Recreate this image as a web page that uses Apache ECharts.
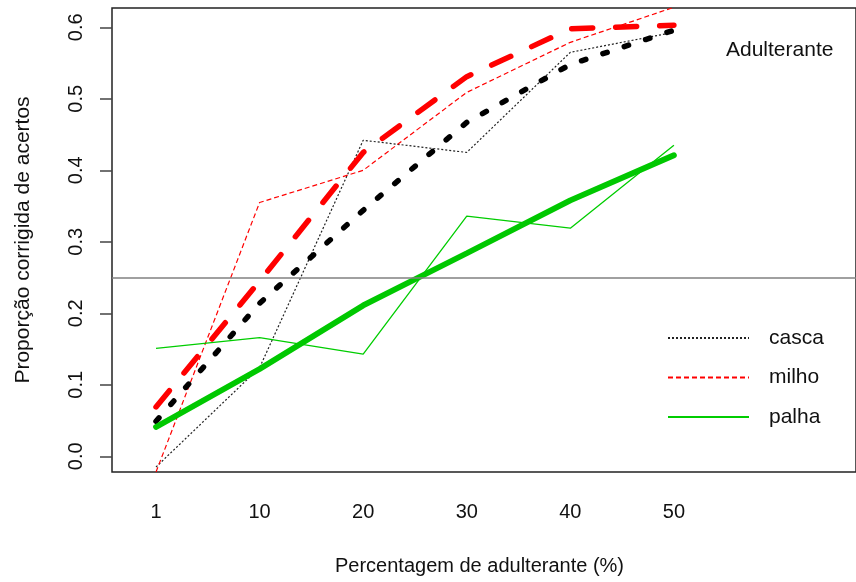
<!DOCTYPE html>
<html>
<head>
<meta charset="utf-8">
<script src="https://cdn.jsdelivr.net/npm/echarts@6/dist/echarts.min.js"></script>
<style>
html,body{margin:0;padding:0;background:#fff;}
#c{width:856px;height:582px;}
</style>
</head>
<body>
<div id="c"></div>
<script>
// Data
var categories = ['1', '10', '20', '30', '40', '50'];
var casca    = [-0.015, 0.124, 0.442, 0.425, 0.565, 0.593];
var milho    = [-0.022, 0.355, 0.400, 0.509, 0.579, 0.628];
var palha    = [0.151, 0.166, 0.143, 0.336, 0.319, 0.435];
var cascaFit = [0.049, 0.214, 0.344, 0.467, 0.548, 0.596];
var milhoFit = [0.069, 0.245, 0.425, 0.531, 0.598, 0.603];
var palhaFit = [0.041, 0.122, 0.211, 0.284, 0.358, 0.421];
var yTicks = [0, 0.1, 0.2, 0.3, 0.4, 0.5, 0.6];
var refLine = 0.25;

function pts(arr) { return categories.map(function (c, i) { return [i, arr[i]]; }); }

var FONT = 'Liberation Sans';
var chart = echarts.init(document.getElementById('c'), null, {renderer: 'canvas'});
chart.setOption({
  animation: false,
  backgroundColor: '#ffffff',
  title: {
    text: 'Adulterante', left: 721, top: 35,
    textStyle: {fontFamily: FONT, fontSize: 21, fontWeight: 'normal', color: '#111'}
  },
  legend: {
    data: ['casca', 'milho', 'palha'],
    orient: 'vertical', left: 667, top: 327, padding: 0,
    itemWidth: 81, itemHeight: 14, itemGap: 17.5,
    itemStyle: {opacity: 0, borderWidth: 0},
    textStyle: {fontFamily: FONT, fontSize: 21, color: '#111', padding: [0, 0, 0, 15], lineHeight: 22}
  },
  grid: {
    left: 112, top: 8, width: 760, height: 464,
    show: true, borderColor: '#222', borderWidth: 1.5, containLabel: false
  },
  xAxis: {
    type: 'value', min: -0.425, max: 6.758,
    splitLine: {show: false}, axisLine: {show: false, onZero: false}, axisTick: {show: false},
    axisLabel: {
      customValues: [0, 1, 2, 3, 4, 5],
      formatter: function (v) { return categories[Math.round(v)]; },
      fontFamily: FONT, fontSize: 20, color: '#111', margin: 30
    },
    name: 'Percentagem de adulterante (%)', nameLocation: 'middle', nameGap: 84,
    nameTextStyle: {fontFamily: FONT, fontSize: 20, color: '#111', padding: [0, 9, 0, 0]}
  },
  yAxis: {
    type: 'value', min: -0.022, max: 0.627,
    splitLine: {show: false}, axisLine: {show: false, onZero: false},
    axisTick: {show: true, customValues: yTicks, length: 12, lineStyle: {color: '#444', width: 1.5}},
    axisLabel: {
      customValues: yTicks, rotate: 90,
      formatter: function (v) { return v.toFixed(1); },
      fontFamily: FONT, fontSize: 20, color: '#111', margin: 26
    },
    name: 'Proporção corrigida de acertos', nameLocation: 'middle', nameGap: 78, nameRotate: 90,
    nameTextStyle: {fontFamily: FONT, fontSize: 21, color: '#111'}
  },
  series: [
    {
      name: 'casca', type: 'line', data: pts(casca), symbol: 'none',
      itemStyle: {color: '#000'},
      lineStyle: {color: '#222', width: 1.2, type: [2, 2]},
      markLine: {
        silent: true, symbol: 'none', label: {show: false},
        lineStyle: {color: '#808080', width: 1.5, type: 'solid'},
        data: [{yAxis: refLine}]
      }
    },
    {
      name: 'milho', type: 'line', data: pts(milho), symbol: 'none',
      itemStyle: {color: '#ff0000'},
      lineStyle: {color: '#ff0000', width: 1.2, type: [5, 3]}
    },
    {
      name: 'palha', type: 'line', data: pts(palha), symbol: 'none',
      itemStyle: {color: '#00cd00'},
      lineStyle: {color: '#00cd00', width: 1.3, type: 'solid'}
    },
    {
      name: 'casca ajuste', type: 'line', data: pts(cascaFit), symbol: 'none',
      itemStyle: {color: '#000'},
      lineStyle: {color: '#000', width: 5.5, type: [4.5, 18], cap: 'round'}
    },
    {
      name: 'milho ajuste', type: 'line', data: pts(milhoFit), symbol: 'none',
      itemStyle: {color: '#ff0000'},
      lineStyle: {color: '#ff0000', width: 5.5, type: [21, 23], cap: 'round'}
    },
    {
      name: 'palha ajuste', type: 'line', data: pts(palhaFit), symbol: 'none',
      itemStyle: {color: '#00c800'},
      lineStyle: {color: '#00c800', width: 5.8, type: 'solid', cap: 'round'}
    }
  ]
});
</script>
</body>
</html>
